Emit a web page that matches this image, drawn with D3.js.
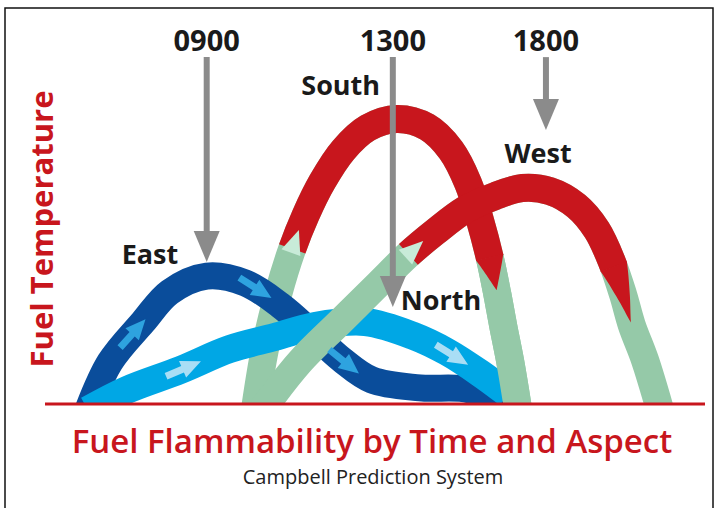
<!DOCTYPE html>
<html>
<head>
<meta charset="utf-8">
<script src="https://cdn.jsdelivr.net/npm/d3@7"></script>
<style>
  body { margin: 0; background: #fff; }
  text { font-family: "Open Sans", sans-serif; }
</style>
</head>
<body>
<script>
// time runs 0..100 across the chart, temperature 0..100 up the chart
var eastTime  = [6.5, 9.85, 14.85, 18.9, 24.5, 30.3, 35.6, 40.5, 45.0, 49.5, 56.8, 64.4, 69.7];
var eastTemp  = [-2.3, 13.3, 26.3, 36.0, 41.2, 39.0, 31.8, 22.7, 14.0, 7.5, 4.9, 4.2, -2.3];
var northTime = [6.5, 12.4, 20.5, 28.0, 34.8, 40.9, 48.5, 55.8, 60.9, 65.9, 70.2];
var northTemp = [-2.3, 4.2, 10.7, 17.5, 21.4, 25.0, 26.3, 21.8, 16.6, 9.7, 2.9];
var southTime = [31.8, 33.3, 35.3, 37.4, 39.5, 42.0, 45.2, 48.9, 53.3, 57.9, 61.5, 64.1, 65.9, 67.4, 68.5, 69.4, 70.5, 71.7];
var southTemp = [-2.3, 17.2, 35.1, 49.7, 61.0, 71.8, 82.1, 89.3, 92.2, 89.6, 82.1, 71.4, 59.4, 47.1, 35.7, 25.3, 13.3, -2.3];
var westTime  = [32.9, 38.6, 44.7, 50.5, 55.0, 59.1, 63.6, 68.2, 72.3, 76.5, 80.5, 83.6, 85.9, 87.6, 88.9, 90.9, 93.2];
var westTemp  = [-2.3, 13.3, 26.3, 38.6, 48.1, 55.5, 62.7, 67.2, 69.8, 68.8, 64.0, 56.2, 45.8, 35.1, 25.3, 14.0, -2.3];

// part of the south / west curves that is hot (fraction of curve length), and where the taper ends
var southHot = [0.245, 0.77, 0.82];
var westHot  = [0.34, 0.76, 0.853];

// direction arrows inside the bands (fraction of curve length)
var eastArrows  = [0.18, 0.46, 0.68];
var northArrows = [0.24, 0.86];

// time markers
var times      = ["0900", "1300", "1800"];
var timeAt     = [24.5, 52.7, 75.9];
var timeTip    = [45.8, 31.2, 88.6];
var markerTop  = 112.3;

// aspect labels
var aspects     = ["East", "South", "West", "North"];
var aspectTime  = [15.9, 44.8, 74.7, 60.0];
var aspectTemp  = [45.1, 100, 77.9, 30.2];

var W = 718, H = 508;
var red = "#c8161d", darkBlue = "#0a4d9b", lightBlue = "#00a7e5",
    green = "#95c9a8", grey = "#8b8b8b";

var svg = d3.select("body").append("svg")
  .attr("width", W).attr("height", H);

var x = d3.scaleLinear().domain([0, 100]).range([45, 705]);
var y = d3.scaleLinear().domain([0, 100]).range([403, 95]);

// frame
svg.append("rect")
  .attr("x", 5).attr("y", 8).attr("width", 708).attr("height", 520)
  .attr("fill", "none").attr("stroke", "#111").attr("stroke-width", 1.5);

svg.append("clipPath").attr("id", "above")
  .append("rect").attr("x", 0).attr("y", 0).attr("width", W).attr("height", y(0));

var plot = svg.append("g").attr("clip-path", "url(#above)");

var line = d3.line()
  .x(function(d) { return x(d[0]); })
  .y(function(d) { return y(d[1]); })
  .curve(d3.curveCatmullRom.alpha(0.5));

function band(time, temp, color, width) {
  return plot.append("path")
    .attr("d", line(d3.zip(time, temp)))
    .attr("fill", "none")
    .attr("stroke", color)
    .attr("stroke-width", width)
    .attr("stroke-linecap", "butt");
}

// point and angle along a path
function at(node, s) {
  var L = node.getTotalLength();
  var p = node.getPointAtLength(Math.max(0, Math.min(L, s)));
  var a = node.getPointAtLength(Math.max(0, s - 1)),
      b = node.getPointAtLength(Math.min(L, s + 1));
  return {x: p.x, y: p.y, ang: Math.atan2(b.y - a.y, b.x - a.x)};
}

// tapered tip following the path
function taper(node, s0, s1, w, color) {
  var left = [], right = [], n = 14;
  for (var i = 0; i <= n; i++) {
    var s = s0 + (s1 - s0) * i / n;
    var p = at(node, s), hw = w / 2 * (1 - i / n);
    var nx = -Math.sin(p.ang), ny = Math.cos(p.ang);
    left.push([p.x + nx * hw, p.y + ny * hw]);
    right.push([p.x - nx * hw, p.y - ny * hw]);
  }
  plot.append("path")
    .attr("d", "M" + left.concat(right.reverse()).join("L") + "Z")
    .attr("fill", color);
}

function hot(node, hotPart, w) {
  var L = node.getTotalLength();
  var a = hotPart[0] * L, b = hotPart[1] * L, c = hotPart[2] * L;
  plot.append("path")
    .attr("d", node.getAttribute("d"))
    .attr("fill", "none")
    .attr("stroke", red)
    .attr("stroke-width", w)
    .attr("stroke-dasharray", "0," + a + "," + (b - a + 0.5) + "," + (L * 2));
  taper(node, b, c, w, red);
  // light notch arrow where the curve turns hot
  var p = at(node, a);
  plot.append("path")
    .attr("d", "M-4,-10L20,0L-4,10Z")
    .attr("fill", "#c8ebd8")
    .attr("transform", "translate(" + p.x + "," + p.y + ") rotate(" + p.ang * 180 / Math.PI + ")");
}

function arrows(node, list, color) {
  var L = node.getTotalLength();
  list.forEach(function(f) {
    var p = at(node, f * L);
    plot.append("path")
      .attr("d", "M-24,-3.5L-6,-3.5L-6,-9L14,0L-6,9L-6,3.5L-24,3.5Z")
      .attr("fill", color)
      .attr("transform", "translate(" + p.x + "," + p.y + ") rotate(" + p.ang * 180 / Math.PI + ")");
  });
}

var south = band(southTime, southTemp, green, 28);
var east = band(eastTime, eastTemp, darkBlue, 27);
var north = band(northTime, northTemp, lightBlue, 28);
var west = band(westTime, westTemp, green, 28);

// falling green part of south lies over the blue ends
var sNode = south.node(), sL = sNode.getTotalLength();
plot.append("path")
  .attr("d", sNode.getAttribute("d"))
  .attr("fill", "none").attr("stroke", green).attr("stroke-width", 28)
  .attr("stroke-dasharray", "0," + (southHot[1] * sL) + "," + sL + "," + sL);

arrows(east.node(), eastArrows, "#2ea3df");
arrows(north.node(), northArrows, "#a9def5");

hot(sNode, southHot, 28);
hot(west.node(), westHot, 28);

// baseline
svg.append("line")
  .attr("x1", x(0)).attr("x2", x(100))
  .attr("y1", y(0) + 1).attr("y2", y(0) + 1)
  .attr("stroke", red).attr("stroke-width", 3);

// time markers
var mk = svg.selectAll(".marker").data(times).enter().append("g").attr("class", "marker");
mk.append("line")
  .attr("x1", function(d, i) { return x(timeAt[i]); })
  .attr("x2", function(d, i) { return x(timeAt[i]); })
  .attr("y1", y(markerTop))
  .attr("y2", function(d, i) { return y(timeTip[i]) - 28; })
  .attr("stroke", grey).attr("stroke-width", 6);
mk.append("path")
  .attr("d", function(d, i) {
    var cx = x(timeAt[i]), ty = y(timeTip[i]);
    return "M" + (cx - 13) + "," + (ty - 31) + "L" + (cx + 13) + "," + (ty - 31) + "L" + cx + "," + ty + "Z";
  })
  .attr("fill", grey);
mk.append("text")
  .attr("x", function(d, i) { return x(timeAt[i]); })
  .attr("y", y(markerTop) - 6)
  .attr("text-anchor", "middle")
  .style("font-size", "29px").style("font-weight", 700).style("fill", "#1a1a1a")
  .text(function(d) { return d; });

// aspect labels
svg.selectAll(".aspect").data(aspects).enter().append("text")
  .attr("class", "aspect")
  .attr("x", function(d, i) { return x(aspectTime[i]); })
  .attr("y", function(d, i) { return y(aspectTemp[i]); })
  .attr("text-anchor", "middle")
  .style("font-size", "27px").style("font-weight", 700).style("fill", "#1a1a1a")
  .text(function(d) { return d; });

// axis title
svg.append("text")
  .attr("transform", "translate(53," + 229 + ") rotate(-90)")
  .attr("text-anchor", "middle")
  .style("font-size", "31px").style("font-weight", 700).style("fill", red)
  .text("Fuel Temperature");

svg.append("text")
  .attr("x", 372).attr("y", 453)
  .attr("text-anchor", "middle")
  .style("font-size", "33px").style("font-weight", 600).style("fill", red)
  .text("Fuel Flammability by Time and Aspect");

svg.append("text")
  .attr("x", 373).attr("y", 484)
  .attr("text-anchor", "middle")
  .style("font-size", "20px").style("fill", "#222")
  .text("Campbell Prediction System");
</script>
</body>
</html>
